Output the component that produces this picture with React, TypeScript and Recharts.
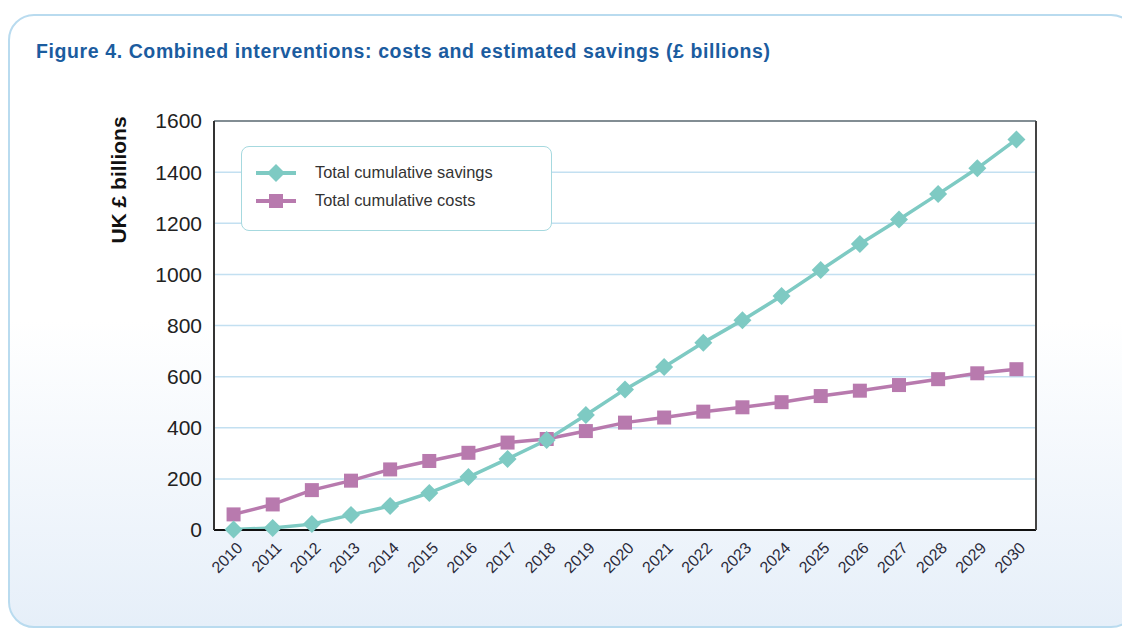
import React from "react";
import { CartesianGrid, Line, LineChart, ReferenceLine, XAxis, YAxis } from "recharts";

const years = [
    "2010", "2011", "2012", "2013", "2014", "2015", "2016", "2017", "2018", "2019", "2020",
    "2021", "2022", "2023", "2024", "2025", "2026", "2027", "2028", "2029", "2030",
];
const savings = [2, 8, 23, 59, 94, 145, 207, 278, 352, 450, 550, 638, 733, 821, 915, 1017, 1119, 1215, 1314, 1415, 1528];
const costs = [61, 100, 156, 193, 237, 270, 302, 342, 356, 387, 420, 440, 463, 480, 500, 524, 545, 567, 590, 613, 629];
const yTicks = [0, 200, 400, 600, 800, 1000, 1200, 1400, 1600];

const TEAL = "#7ecac3";
const PURPLE = "#b87aae";
const FONT = "Arial, 'Liberation Sans', sans-serif";

const data = years.map((year, i) => ({ year, savings: savings[i], costs: costs[i] }));

function Diamond(props: any) {
    const { cx, cy, index } = props;
    if (cx == null || cy == null) return null;
    const r = 9;
    return (
        <path
            key={`d-${index}`}
            d={`M${cx},${cy - r}L${cx + r},${cy}L${cx},${cy + r}L${cx - r},${cy}Z`}
            fill={TEAL}
        />
    );
}

function Square(props: any) {
    const { cx, cy, index } = props;
    if (cx == null || cy == null) return null;
    const s = 7;
    return <rect key={`s-${index}`} x={cx - s} y={cy - s} width={s * 2} height={s * 2} fill={PURPLE} />;
}

function YearTick(props: any) {
    const { x, y, payload } = props;
    return (
        <text
            x={x + 6}
            y={y + 7}
            transform={`rotate(-45, ${x + 6}, ${y + 7})`}
            textAnchor="end"
            dominantBaseline="central"
            fontSize={16}
            fontFamily={FONT}
            fill="#2a2a3a"
        >
            {payload.value}
        </text>
    );
}

function LegendBox() {
    return (
        <div
            style={{
                position: "absolute",
                left: 241,
                top: 146,
                width: 311,
                height: 85,
                border: "1.5px solid #a6d9df",
                borderRadius: 8,
                background: "#fff",
                boxSizing: "border-box",
            }}
        >
            <svg width={60} height={85} style={{ position: "absolute", left: 0, top: 0 }}>
                <line x1={14} y1={26} x2={54} y2={26} stroke={TEAL} strokeWidth={4} />
                <path d="M34,17L43,26L34,35L25,26Z" fill={TEAL} />
                <line x1={14} y1={54} x2={54} y2={54} stroke={PURPLE} strokeWidth={4} />
                <rect x={27} y={47} width={14} height={14} fill={PURPLE} />
            </svg>
            <div style={{ position: "absolute", left: 73, top: 16, fontSize: 16.4, fontFamily: FONT, color: "#333", whiteSpace: "nowrap" }}>
                Total cumulative savings
            </div>
            <div style={{ position: "absolute", left: 73, top: 44, fontSize: 16.4, fontFamily: FONT, color: "#333", whiteSpace: "nowrap" }}>
                Total cumulative costs
            </div>
        </div>
    );
}

export default function App() {
    return (
        <div style={{ position: "absolute", left: 0, top: 0, width: 1122, height: 628, overflow: "hidden", background: "#fff" }}>
            <div
                style={{
                    position: "absolute",
                    left: 8,
                    top: 14,
                    width: 1125,
                    height: 610,
                    border: "2px solid #b9dbef",
                    borderRadius: 26,
                    background: "linear-gradient(to bottom, #ffffff 0%, #ffffff 50%, #e6eff9 100%)",
                }}
            />
            <div
                style={{
                    position: "absolute",
                    left: 36,
                    top: 40,
                    fontSize: 19.5,
                    letterSpacing: 0.6,
                    fontWeight: "bold",
                    fontFamily: FONT,
                    color: "#1b5c9f",
                    lineHeight: 1.2,
                    whiteSpace: "nowrap",
                }}
            >
                Figure 4. Combined interventions: costs and estimated savings (£ billions)
            </div>
            <div style={{ position: "absolute", left: 0, top: 0 }}>
                <LineChart width={1122} height={628} data={data} margin={{ top: 121, right: 85, bottom: 38, left: 154 }}>
                    <CartesianGrid yAxisId="left" horizontal vertical={false} stroke="#c3e0f1" strokeWidth={1.5} fill="#ffffff" />
                    <XAxis
                        dataKey="year"
                        scale="band"
                        height={60}
                        tick={<YearTick />}
                        tickLine={false}
                        axisLine={{ stroke: "#111", strokeWidth: 2 }}
                        interval={0}
                    />
                    <YAxis
                        yAxisId="left"
                        width={60}
                        domain={[0, 1600]}
                        ticks={yTicks}
                        tickLine={false}
                        axisLine={{ stroke: "#333", strokeWidth: 2 }}
                        tick={{ fontSize: 21, fill: "#222", fontFamily: FONT }}
                        tickMargin={6}
                        label={(p: any) => {
                            const vb = p.viewBox;
                            const cx = vb.x - 36;
                            const cy = 180;
                            return (
                                <text
                                    x={cx}
                                    y={cy}
                                    transform={`rotate(-90, ${cx}, ${cy})`}
                                    textAnchor="middle"
                                    dominantBaseline="central"
                                    fontSize={21}
                                    fontWeight="bold"
                                    fontFamily={FONT}
                                    fill="#111"
                                >
                                    UK £ billions
                                </text>
                            );
                        }}
                    />
                    <YAxis
                        yAxisId="right"
                        orientation="right"
                        width={1}
                        domain={[0, 1600]}
                        tick={false}
                        tickLine={false}
                        axisLine={{ stroke: "#444", strokeWidth: 2 }}
                    />
                    <ReferenceLine yAxisId="left" y={1600} stroke="#333" strokeWidth={1.2} />
                    <Line
                        yAxisId="left"
                        type="linear"
                        dataKey="costs"
                        name="Total cumulative costs"
                        stroke={PURPLE}
                        strokeWidth={3.5}
                        dot={Square}
                        activeDot={false}
                        isAnimationActive={false}
                    />
                    <Line
                        yAxisId="left"
                        type="linear"
                        dataKey="savings"
                        name="Total cumulative savings"
                        stroke={TEAL}
                        strokeWidth={3.5}
                        dot={Diamond}
                        activeDot={false}
                        isAnimationActive={false}
                    />
                </LineChart>
            </div>
            <LegendBox />
        </div>
    );
}
